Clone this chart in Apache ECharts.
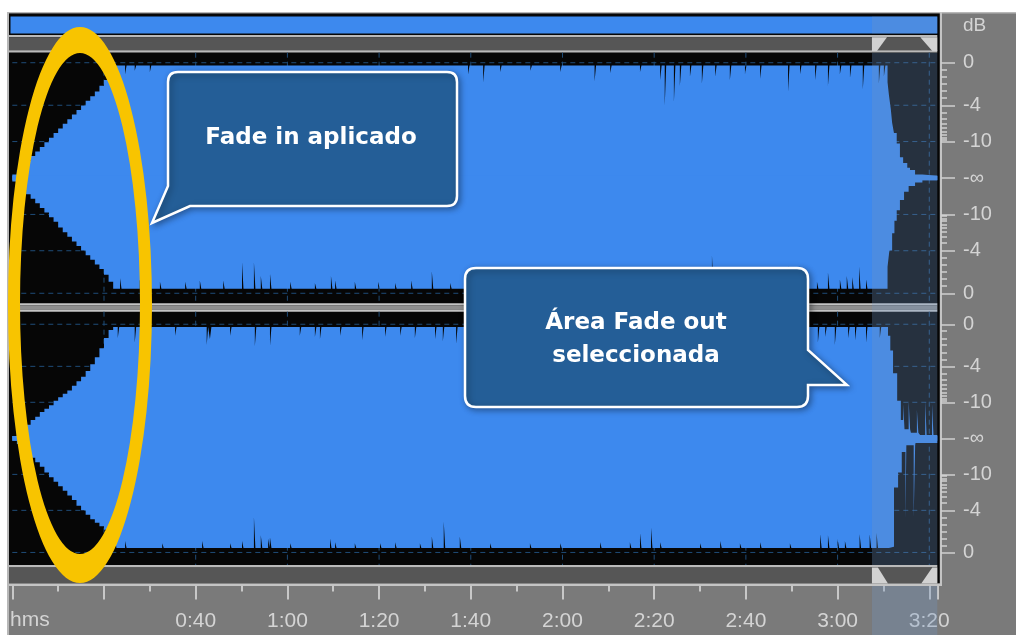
<!DOCTYPE html>
<html><head><meta charset="utf-8">
<script src="https://cdn.jsdelivr.net/npm/echarts@6/dist/echarts.min.js"></script>
<style>html,body{margin:0;padding:0;background:#fff}#c{width:1016px;height:635px}</style>
</head><body><div id="c"></div>
<script>
// ---------- DATA ----------
const duration = 201.75;               // seconds shown
const selection = [187.5, 201.75];     // selected fade-out area (s)
const timeLabelValues = [40, 60, 80, 100, 120, 140, 160, 180, 200];
const timeGridValues = [20, 40, 60, 80, 100, 120, 140, 160, 180, 200];
const dbTickAmps = [1, 0.631, 0.316, 0, -0.316, -0.631, -1];
const dbTickLabels = ['0', '-4', '-10', '-\u221e', '-10', '-4', '0'];
const dbMinorAmps = [0.939, 0.877, 0.816, 0.754, 0.693, 0.563, 0.51, 0.47, 0.432, 0.403, 0.374, 0.351, 0.33,
  -0.939, -0.877, -0.816, -0.754, -0.693, -0.563, -0.51, -0.47, -0.432, -0.403, -0.374, -0.351, -0.33];
const dbGridAmps = [1, 0.631, 0.316, -0.316, -0.631, -1];

// peak envelopes [time s, amplitude] (value holds until next point)
const ch1UpperEnv = [[0,0.03],[1,0.07],[2,0.11],[3,0.15],[4,0.19],[5,0.23],[6,0.27],[7,0.31],[8,0.35],[9,0.39],[10,0.43],[11,0.47],[12,0.51],[13,0.55],[14,0.59],[15,0.63],[16,0.67],[17,0.71],[18,0.75],[19,0.8],[20,0.85],[21,0.91],[22,0.975],
  [190.9,0.83],[191.2,0.72],[191.6,0.6],[191.9,0.48],[192.3,0.39],[192.9,0.3],[193.6,0.18],[194.3,0.13],[195.2,0.09],[195.8,0.07],[196.9,0.03],[198.5,0.02],[201.75,0.02]];
const ch1LowerEnv = [[0,-0.03],[1,-0.07],[2,-0.1],[3,-0.14],[4,-0.18],[5,-0.22],[6,-0.26],[7,-0.3],[8,-0.34],[9,-0.38],[10,-0.43],[11,-0.47],[12,-0.51],[13,-0.55],[14,-0.59],[15,-0.63],[16,-0.67],[17,-0.71],[18,-0.75],[19,-0.79],[20,-0.84],[21,-0.9],[22,-0.96],
  [190.9,-0.77],[191.3,-0.63],[191.9,-0.48],[192.4,-0.37],[192.9,-0.28],[193.6,-0.19],[194.5,-0.12],[195.5,-0.07],[196.9,-0.04],[198.5,-0.02],[201.75,-0.02]];
const ch2UpperEnv = [[0,0.02],[1,0.05],[2,0.09],[3,0.12],[4,0.16],[5,0.19],[6,0.23],[7,0.26],[8,0.29],[9,0.33],[10,0.36],[11,0.39],[12,0.42],[13,0.46],[14,0.5],[15,0.54],[16,0.59],[17,0.65],[18,0.71],[19,0.79],[20,0.88],[21,0.95],[22,0.975],
  [191,0.9],[191.5,0.77],[192.1,0.57],[193,0.33],[193.8,0.16],[194.6,0.08],[196,0.05],[198,0.03],[201.75,0.03]];
const ch2LowerEnv = [[0,-0.02],[1,-0.05],[2,-0.09],[3,-0.13],[4,-0.17],[5,-0.21],[6,-0.25],[7,-0.3],[8,-0.34],[9,-0.38],[10,-0.42],[11,-0.46],[12,-0.5],[13,-0.54],[14,-0.59],[15,-0.63],[16,-0.67],[17,-0.71],[18,-0.74],[19,-0.77],[20,-0.8],[21,-0.88],[22,-0.96],
  [191.2,-0.95],[192.3,-0.43],[193.2,-0.3],[194,-0.12],[195,-0.06],[197,-0.04],[201.75,-0.04]];

// short peaks / dips [time s, amplitude]
const ch1UpperDips = [[24.6,0.9],[26.7,0.93],[30,0.92],[99.4,0.9],[102.7,0.83],[106.4,0.92],[113,0.93],[119.5,0.92],[127,0.84],[130.4,0.91],[136.9,0.92],[141.3,0.85],[142.3,0.63],[144.3,0.66],[145.6,0.8],[147.8,0.88],[150.4,0.82],[153.3,0.88],[156.5,0.85],[159.8,0.9],[163.1,0.86],[169.2,0.75],[171.8,0.9],[175.1,0.85],[177.9,0.8],[180.5,0.9],[182.7,0.87],[185.5,0.77],[189,0.82],[190.1,0.88]];
const ch1LowerDips = [[23.5,-0.87],[27.8,-0.88],[32.2,-0.9],[37.7,-0.9],[40.9,-0.89],[46,-0.89],[50.1,-0.73],[52.7,-0.73],[54.2,-0.85],[56.2,-0.83],[60.6,-0.9],[66,-0.91],[69.5,-0.85],[70.4,-0.89],[74.7,-0.9],[79.8,-0.9],[83.5,-0.91],[87,-0.89],[91.5,-0.81],[95.5,-0.91],[152.6,-0.67],[165.3,-0.91],[169.2,-0.76],[175.5,-0.9],[177.9,-0.82],[180.5,-0.88],[182,-0.85],[183.2,-0.86],[184.7,-0.77],[186.2,-0.88]];
const ch2UpperDips = [[23,0.88],[26.7,0.84],[30,0.9],[35.5,0.9],[42.4,0.82],[43.1,0.87],[47.5,0.9],[52.9,0.81],[56.2,0.81],[62.7,0.9],[66,0.89],[67.1,0.87],[71.5,0.9],[76.3,0.86],[81.3,0.89],[84.6,0.9],[87.8,0.88],[92.2,0.87],[93.9,0.85],[96.8,0.83],[175.7,0.84],[177.3,0.89],[179.4,0.82],[182.3,0.88],[183.8,0.86],[186.2,0.84],[189.2,0.88],[194.3,0.3],[195.5,0.33],[197.3,0.25],[199.1,0.33],[200.6,0.3]];
const ch2LowerDips = [[22.4,-0.88],[24.6,-0.9],[32.7,-0.92],[41.4,-0.9],[47.5,-0.92],[50.1,-0.9],[52.7,-0.69],[54.2,-0.85],[55.8,-0.88],[56.2,-0.87],[60.6,-0.92],[69.3,-0.88],[70.4,-0.91],[74.7,-0.92],[80.2,-0.92],[83.5,-0.91],[88.9,-0.92],[91.5,-0.86],[94.1,-0.73],[97.6,-0.86],[104.2,-0.92],[112.9,-0.92],[119.5,-0.92],[128.2,-0.91],[134.7,-0.91],[136.9,-0.83],[139.3,-0.78],[141.3,-0.91],[150,-0.92],[154.4,-0.9],[158.7,-0.92],[163.1,-0.91],[169.6,-0.92],[176.2,-0.84],[177.9,-0.85],[180,-0.88],[181.6,-0.9],[184.8,-0.84],[187,-0.84],[188.5,-0.83],[194.8,-0.72],[196.6,-0.7]];

const calloutFadeIn = 'Fade in aplicado';
const calloutFadeOut = ['\u00c1rea Fade out', 'seleccionada'];

// ---------- BUILD ----------
const BLUE = '#3d89ee';
const SPIKE_W = 0.32;
function buildEdge(env, dips) {
  const valueAt = t => { let v = env[0][1]; for (const p of env) { if (p[0] <= t) v = p[1]; else break; } return v; };
  const pts = env.map(p => [p[0], p[1]]);
  dips.forEach(d => { pts.push([d[0], d[1]]); pts.push([d[0] + SPIKE_W, valueAt(d[0] + SPIKE_W)]); });
  pts.sort((a, b) => a[0] - b[0]);
  return pts;
}
const ranges = [1.087, 1.11];
const grids = [
  {left: 12.3, top: 52.7, width: 925, height: 250.6},
  {left: 12.3, top: 311.7, width: 925, height: 253.3},
  {left: 12.3, top: 500, width: 925, height: 85.5}
];
const dbLabel = v => { let best = 0; dbTickAmps.forEach((a, i) => { if (Math.abs(a - v) < Math.abs(dbTickAmps[best] - v)) best = i; }); return dbTickLabels[best]; };
const fmtTime = v => Math.floor(v / 60) + ':' + String(Math.round(v % 60)).padStart(2, '0');
const LBL = '#d4d4d4';
const xAxes = [0, 1].map(g => ({gridIndex: g, type: 'value', min: 0, max: duration, show: false, axisLine: {onZero: false}}));
xAxes.push({gridIndex: 2, type: 'value', min: 0, max: duration, interval: 20, position: 'bottom',
  axisLine: {show: false, onZero: false},
  axisTick: {show: true, length: 14, lineStyle: {color: '#c8c8c8', width: 2}},
  minorTick: {show: true, splitNumber: 2, length: 6, lineStyle: {color: '#c8c8c8', width: 2}},
  splitLine: {show: false}, minorSplitLine: {show: false},
  axisLabel: {customValues: timeLabelValues, formatter: fmtTime, margin: 25, color: LBL, fontSize: 21, fontFamily: 'Liberation Sans'}});
const yAxes = [];
[0, 1].forEach(g => {
  yAxes.push({gridIndex: g, type: 'value', min: -ranges[g], max: ranges[g], position: 'right', offset: 3.7,
    axisLine: {show: false, onZero: false}, splitLine: {show: false},
    axisTick: {show: true, customValues: dbTickAmps, length: 14, lineStyle: {color: '#d0d0d0', width: 1.5}},
    axisLabel: {show: true, customValues: dbTickAmps, formatter: dbLabel, margin: 22, color: LBL, fontSize: 20, fontFamily: 'Liberation Sans'}});
  yAxes.push({gridIndex: g, type: 'value', min: -ranges[g], max: ranges[g], position: 'right', offset: 3.7,
    axisLine: {show: false, onZero: false}, splitLine: {show: false}, axisLabel: {show: false},
    axisTick: {show: true, customValues: dbMinorAmps, length: 6, lineStyle: {color: '#d0d0d0', width: 1.5}}});
});
yAxes.push({gridIndex: 2, type: 'value', min: 0, max: 1, show: false, axisLine: {onZero: false}});

const series = [];
const edges = [[ch1UpperEnv, ch1UpperDips, 0, -0.02], [ch1LowerEnv, ch1LowerDips, 0, 0.02],
               [ch2UpperEnv, ch2UpperDips, 1, -0.02], [ch2LowerEnv, ch2LowerDips, 1, 0.02]];
const DASH = {stroke: '#1f4c78', lineWidth: 1, lineDash: [5, 4]};
[0, 1].forEach(g => {
  series.push({type: 'custom', xAxisIndex: g, yAxisIndex: g * 2, z: 1, silent: true,
    data: dbGridAmps.map(a => [0, a]),
    renderItem: (params, api) => {
      const p1 = api.coord([0, api.value(1)]), p2 = api.coord([duration, api.value(1)]);
      return {type: 'line', shape: {x1: p1[0], y1: p1[1], x2: p2[0], y2: p2[1]}, style: DASH};
    }});
  series.push({type: 'custom', xAxisIndex: g, yAxisIndex: g * 2, z: 1, silent: true,
    data: timeGridValues.map(t => [t, 0]),
    renderItem: (params, api) => {
      const p1 = api.coord([api.value(0), ranges[g]]), p2 = api.coord([api.value(0), -ranges[g]]);
      return {type: 'line', shape: {x1: p1[0], y1: p1[1], x2: p2[0], y2: p2[1]}, style: DASH};
    }});
});
edges.forEach(([env, dips, g, origin]) => {
  series.push({type: 'line', xAxisIndex: g, yAxisIndex: g * 2, z: 3, silent: true, step: 'end',
    symbol: 'none', data: buildEdge(env, dips),
    lineStyle: {width: 0, opacity: 0},
    areaStyle: {color: BLUE, opacity: 1, origin: origin}});
});

// annotations (ellipse + callouts) drawn as one custom item
const FONT = 'bold 23px "DejaVu Sans"';
const calloutStyle = {fill: '#245e97', stroke: '#ffffff', lineWidth: 2.5, shadowBlur: 6, shadowColor: 'rgba(0,0,0,0.35)', shadowOffsetX: 2, shadowOffsetY: 2};
const txt = (t, x, y) => ({type: 'text', style: {text: t, x: x, y: y, font: FONT, fill: '#ffffff', align: 'center', verticalAlign: 'middle', textAlign: 'center', textVerticalAlign: 'middle'}});
series.push({type: 'custom', coordinateSystem: 'none', z: 20, silent: true, data: [[0]],
  renderItem: () => ({type: 'group', children: [
    {type: 'path', shape: {pathData: 'M 8 305 A 72 278 0 1 1 152 305 A 72 278 0 1 1 8 305 Z M 20 303.5 A 60 250.5 0 1 0 140 303.5 A 60 250.5 0 1 0 20 303.5 Z'},
     style: {fill: '#f8c400'}},
    {type: 'path', shape: {pathData: 'M 178 72 H 447 Q 457 72 457 82 V 196 Q 457 206 447 206 H 190 L 152 223 L 168 186 V 82 Q 168 72 178 72 Z'}, style: calloutStyle},
    {type: 'path', shape: {pathData: 'M 476 268 H 797 Q 808 268 808 279 V 350 L 847 385 H 808 V 396 Q 808 407 797 407 H 476 Q 465 407 465 396 V 279 Q 465 268 476 268 Z'}, style: calloutStyle},
    txt(calloutFadeIn, 311, 138),
    txt(calloutFadeOut[0], 636, 323),
    txt(calloutFadeOut[1], 636, 356)
  ]})});

const chart = echarts.init(document.getElementById('c'), null, {renderer: 'canvas'});
chart.setOption({animation: false, backgroundColor: '#ffffff', grid: grids, xAxis: xAxes, yAxis: yAxes, series: series});

const xs = chart.convertToPixel({xAxisIndex: 0}, selection[0]);
const xe = chart.convertToPixel({xAxisIndex: 0}, selection[1]);
const R = (x, y, w, h, fill, z) => ({type: 'rect', shape: {x: x, y: y, width: w, height: h}, style: {fill: fill}, z: z, silent: true});
const P = (pts, fill, z) => ({type: 'polygon', shape: {points: pts}, style: {fill: fill}, z: z, silent: true});
const OV = 'rgba(112,150,195,0.3)';
const graphic = [
  R(7, 12, 1009, 623, '#7a7a7a', -5),
  R(7, 12, 1009, 1.6, '#b8b8b8', -4),
  R(7, 12, 2, 623, '#b8b8b8', -4),
  R(9, 13.6, 931, 570, '#060606', -4),
  R(10.5, 16.6, 926.8, 16.8, BLUE, -3),
  R(9, 35, 928.3, 2.3, '#bababa', -3),
  R(9, 37.3, 928.3, 13, '#565656', -3),
  R(9, 50.3, 928.3, 2.3, '#bababa', -3),
  R(9, 303.3, 928.3, 2.2, '#c4c4c4', -3),
  R(9, 305.5, 928.3, 4, '#8e8e8e', -3),
  R(9, 309.5, 928.3, 2.2, '#c4c4c4', -3),
  R(9, 565, 928.3, 2.5, '#bababa', -3),
  R(9, 567.5, 928.3, 16, '#565656', -3),
  R(9, 583.5, 933, 2.5, '#c4c4c4', -3),
  R(939.8, 12, 2.2, 574, '#c4c4c4', -3),
  {type: 'text', x: 963, y: 16, z: 5, silent: true, style: {text: 'dB', font: '19px "Liberation Sans"', fill: LBL}},
  {type: 'text', x: 10, y: 610, z: 5, silent: true, style: {text: 'hms', font: '21px "Liberation Sans"', fill: LBL}},
  P([[xs, 37.3], [xs + 15, 37.3], [xs + 5, 51], [xs, 51]], '#d2d2d2', 40),
  P([[xe - 17, 37.3], [xe, 37.3], [xe, 51], [xe - 5, 51]], '#d2d2d2', 40),
  P([[xs, 567.5], [xs + 6, 567.5], [xs + 16, 583.5], [xs, 583.5]], '#d2d2d2', 40),
  P([[xe - 5, 567.5], [xe, 567.5], [xe, 583.5], [xe - 16, 583.5]], '#d2d2d2', 40),
  R(xs, 16.6, xe - xs, 16.8, OV, 50),
  R(xs, 52.7, xe - xs, 512.3, OV, 50),
  R(xs, 586, xe - xs, 49, OV, 50)
];
chart.setOption({graphic: graphic});
</script></body></html>
